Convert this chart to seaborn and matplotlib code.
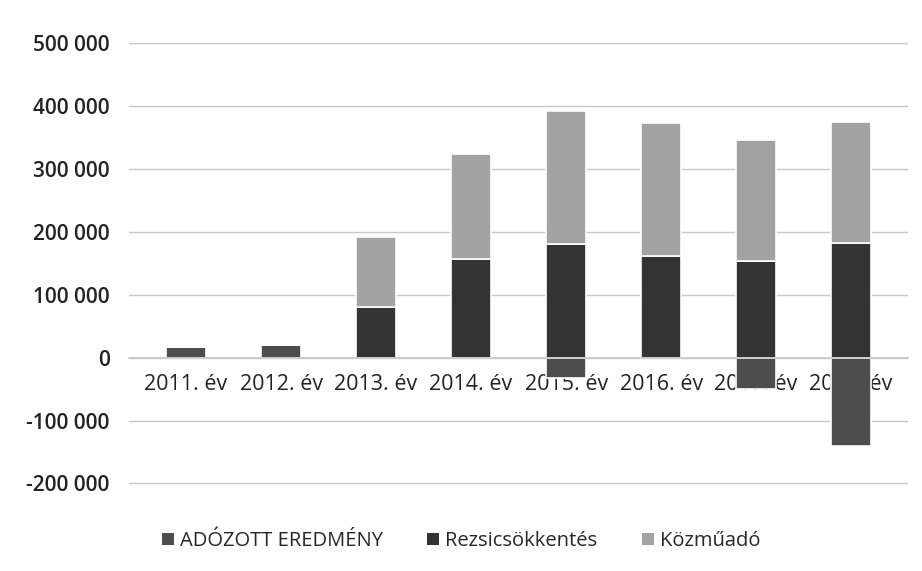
import numpy as np
import pandas as pd
import matplotlib
matplotlib.use("Agg")
import matplotlib.pyplot as plt
from matplotlib.ticker import FuncFormatter
from matplotlib.patches import Patch
import seaborn as sns

# ── data ──
years = ["2011. év", "2012. év", "2013. év", "2014. év",
         "2015. év", "2016. év", "2017. év", "2018. év"]
adozott = [16000, 20000, 0, 0, -32000, 0, -50000, -140000]
rezsi = [0, 0, 80000, 157000, 180000, 162000, 154000, 182000]
kozmu = [0, 0, 112000, 166000, 212000, 211000, 192000, 192000]

series_names = ["ADÓZOTT EREDMÉNY", "Rezsicsökkentés", "Közműadó"]
colors = ["#4d4d4d", "#333333", "#a3a3a3"]

df = pd.DataFrame({"year": years, "ado": adozott, "rezsi": rezsi, "kozmu": kozmu})

# Excel-style stacking: positives stack up from 0, negatives go down
df["rezsi_bottom"] = df["ado"].clip(lower=0)
df["kozmu_bottom"] = df["rezsi_bottom"] + df["rezsi"]

sns.set_theme(style="white")
plt.rcParams["font.family"] = ["Open Sans", "DejaVu Sans"]

fig, ax = plt.subplots(figsize=(9.22, 5.71), dpi=100)
fig.subplots_adjust(left=0.14, right=0.985, top=0.925, bottom=0.15)

bar_kw = dict(width=0.42, edgecolor="white", linewidth=1.2, saturation=1, ax=ax)
sns.barplot(data=df, x="year", y="ado", color=colors[0], **bar_kw)
sns.barplot(data=df, x="year", y="rezsi", bottom=df["rezsi_bottom"], color=colors[1], **bar_kw)
sns.barplot(data=df, x="year", y="kozmu", bottom=df["kozmu_bottom"], color=colors[2], **bar_kw)

ax.set_ylim(-203000, 500000)
ax.set_yticks(np.arange(-200000, 500001, 100000))
ax.yaxis.set_major_formatter(FuncFormatter(lambda v, p: f"{int(v):,}".replace(",", " ")))
ax.grid(axis="y", color="#c8c8c8", linewidth=1)
ax.set_axisbelow(True)
ax.set_xlim(-0.6, 7.6)

# category labels sit on the zero line
ax.spines["bottom"].set_position(("data", 0))
for s in ["left", "right", "top"]:
    ax.spines[s].set_visible(False)
ax.spines["bottom"].set_color("#c8c8c8")
ax.tick_params(axis="x", length=0, pad=12, labelsize=15.5, colors="#222222")
ax.tick_params(axis="y", length=0, pad=14, labelsize=15, colors="#222222")
for lbl in ax.get_yticklabels():
    lbl.set_fontweight("semibold")
ax.set_xlabel("")
ax.set_ylabel("")

handles = [Patch(facecolor=c, edgecolor="none") for c in colors]
fig.legend(handles, series_names, loc="lower center", ncol=3, frameon=False,
           bbox_to_anchor=(0.5, 0.003), fontsize=14.5, handlelength=0.6,
           handleheight=0.6, columnspacing=2.2, handletextpad=0.3)

fig.savefig("out.png", dpi=100, facecolor="white")
